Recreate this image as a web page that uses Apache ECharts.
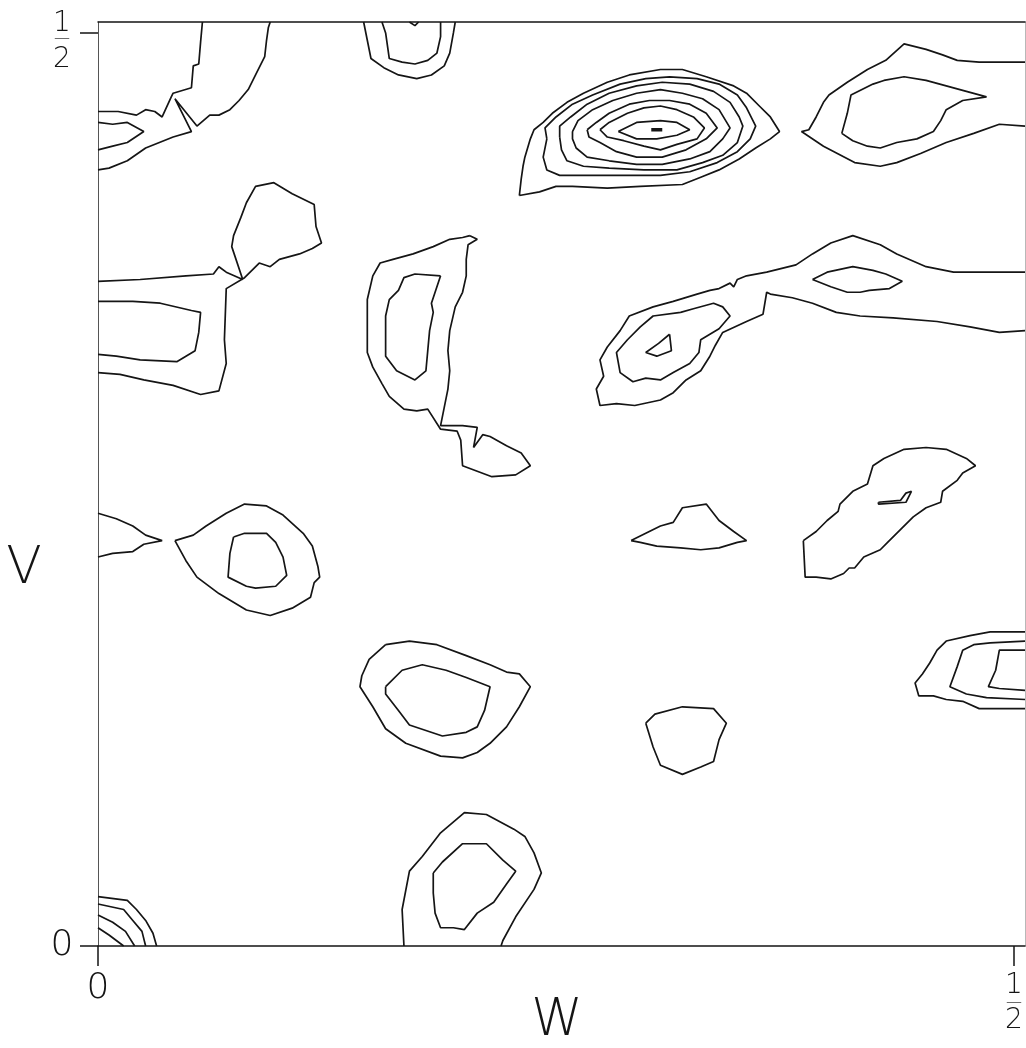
<!DOCTYPE html>
<html>
<head>
<meta charset="utf-8">
<script src="https://cdn.jsdelivr.net/npm/echarts@6/dist/echarts.min.js"></script>
<style>
  html, body { margin: 0; padding: 0; background: #ffffff; }
  #chart { width: 1026px; height: 1048px; }
</style>
</head>
<body>
<div id="chart"></div>
<script>
// Section extent in fractional cell coordinates, and the labelled ticks
const W_MAX = 0.506;
const V_MAX = 0.506;
const TICKS = [0, 0.5];

// ---- Contour lines, each a list of [w, v] points ----

// top-left corner
const topLeftInner = [[0.057,0.506],[0.056,0.495],[0.055,0.483],[0.052,0.482],[0.051,0.470],[0.041,0.467],[0.040,0.465],[0.035,0.454],[0.031,0.457],[0.026,0.458],[0.021,0.455],[0.011,0.457],[0,0.457]];
const topLeftOuter = [[0.094,0.506],[0.093,0.503],[0.092,0.496],[0.091,0.487],[0.086,0.477],[0.082,0.469],[0.077,0.463],[0.072,0.458],[0.066,0.455],[0.061,0.455],[0.054,0.449],[0.042,0.464],[0.051,0.446],[0.041,0.443],[0.026,0.437],[0.016,0.430],[0.006,0.426],[0,0.425]];
const topLeftLobe = [[0,0.451],[0.008,0.450],[0.016,0.451],[0.025,0.446],[0.016,0.440],[0.008,0.438],[0,0.436]];

// top edge, middle
const topMidOuter = [[0.145,0.506],[0.147,0.496],[0.149,0.486],[0.156,0.481],[0.164,0.477],[0.174,0.475],[0.182,0.477],[0.189,0.482],[0.192,0.489],[0.194,0.500],[0.195,0.506]];
const topMidInner = [[0.155,0.506],[0.157,0.500],[0.159,0.486],[0.166,0.484],[0.173,0.483],[0.180,0.485],[0.185,0.489],[0.187,0.498],[0.187,0.506]];
const topMidNotch = [[0.170,0.506],[0.173,0.504],[0.175,0.506]];

// main peak, outermost ring first
const peakRing1 = [[0.230,0.411],[0.231,0.420],[0.232,0.427],[0.233,0.432],[0.236,0.442],[0.238,0.447],[0.243,0.451],[0.248,0.456],[0.256,0.462],[0.265,0.467],[0.278,0.473],[0.290,0.477],[0.307,0.480],[0.319,0.480],[0.332,0.476],[0.347,0.471],[0.354,0.467],[0.361,0.460],[0.367,0.454],[0.372,0.446],[0.367,0.442],[0.359,0.437],[0.350,0.431],[0.339,0.425],[0.329,0.421],[0.319,0.417],[0.296,0.416],[0.278,0.415],[0.259,0.416],[0.250,0.416],[0.241,0.413]];
const peakRing2 = [[0.245,0.442],[0.244,0.448],[0.250,0.454],[0.259,0.461],[0.270,0.466],[0.285,0.472],[0.299,0.475],[0.312,0.476],[0.327,0.475],[0.339,0.472],[0.349,0.466],[0.354,0.459],[0.359,0.449],[0.356,0.442],[0.349,0.435],[0.338,0.429],[0.323,0.424],[0.307,0.422],[0.290,0.422],[0.274,0.422],[0.261,0.422],[0.252,0.422],[0.245,0.425],[0.243,0.432]];
const peakRing3 = [[0.252,0.443],[0.252,0.449],[0.258,0.454],[0.267,0.461],[0.279,0.467],[0.294,0.471],[0.308,0.473],[0.323,0.472],[0.336,0.468],[0.345,0.462],[0.350,0.454],[0.352,0.449],[0.349,0.440],[0.341,0.433],[0.330,0.429],[0.316,0.425],[0.298,0.425],[0.279,0.426],[0.265,0.427],[0.256,0.430],[0.253,0.436]];
const peakRing4 = [[0.259,0.446],[0.262,0.452],[0.270,0.458],[0.281,0.463],[0.294,0.467],[0.307,0.469],[0.319,0.467],[0.330,0.464],[0.339,0.458],[0.345,0.448],[0.341,0.442],[0.334,0.435],[0.323,0.431],[0.308,0.428],[0.294,0.428],[0.279,0.430],[0.267,0.432],[0.261,0.437],[0.259,0.442]];
const peakRing5 = [[0.267,0.447],[0.272,0.451],[0.279,0.456],[0.290,0.461],[0.301,0.463],[0.312,0.463],[0.323,0.461],[0.332,0.456],[0.338,0.448],[0.332,0.442],[0.321,0.436],[0.308,0.432],[0.294,0.432],[0.283,0.435],[0.274,0.440],[0.268,0.443]];
const peakRing6 = [[0.274,0.447],[0.279,0.451],[0.289,0.456],[0.298,0.459],[0.307,0.460],[0.316,0.458],[0.325,0.454],[0.331,0.448],[0.327,0.442],[0.316,0.439],[0.307,0.436],[0.298,0.438],[0.287,0.441],[0.278,0.443]];
const peakRing7 = [[0.284,0.446],[0.294,0.451],[0.307,0.452],[0.316,0.451],[0.323,0.447],[0.316,0.444],[0.305,0.442],[0.294,0.442]];
const peakCentre = [[0.302,0.447],[0.308,0.447]];

// top-right corner
const topRightOuter = [[0.506,0.484],[0.481,0.484],[0.469,0.485],[0.461,0.488],[0.452,0.491],[0.440,0.494],[0.430,0.485],[0.420,0.480],[0.409,0.473],[0.399,0.466],[0.396,0.462],[0.392,0.454],[0.388,0.447],[0.384,0.446],[0.396,0.438],[0.413,0.429],[0.427,0.427],[0.436,0.429],[0.449,0.434],[0.463,0.440],[0.478,0.445],[0.492,0.450],[0.506,0.449]];
const topRightInner = [[0.406,0.445],[0.409,0.456],[0.411,0.466],[0.423,0.472],[0.429,0.474],[0.440,0.476],[0.452,0.474],[0.463,0.471],[0.474,0.468],[0.485,0.465],[0.472,0.463],[0.463,0.458],[0.460,0.452],[0.456,0.446],[0.447,0.442],[0.436,0.440],[0.427,0.437],[0.420,0.438],[0.412,0.441]];

// band from the right edge wrapping the peak near w = 0.3
const bandOuter = [[0.506,0.369],[0.467,0.369],[0.452,0.372],[0.436,0.379],[0.427,0.384],[0.412,0.389],[0.400,0.385],[0.390,0.379],[0.381,0.373],[0.365,0.369],[0.354,0.367],[0.349,0.365],[0.347,0.361],[0.345,0.363],[0.339,0.360],[0.334,0.359],[0.327,0.357],[0.314,0.353],[0.303,0.350],[0.290,0.345],[0.285,0.337],[0.278,0.328],[0.274,0.321],[0.276,0.312],[0.272,0.305],[0.274,0.296],[0.283,0.297],[0.293,0.296],[0.307,0.299],[0.314,0.303],[0.321,0.310],[0.329,0.315],[0.334,0.323],[0.337,0.329],[0.341,0.336],[0.354,0.342],[0.363,0.346],[0.365,0.358],[0.367,0.357],[0.379,0.355],[0.390,0.352],[0.403,0.347],[0.416,0.345],[0.434,0.344],[0.458,0.342],[0.476,0.339],[0.492,0.336],[0.506,0.337]];
const bandLens = [[0.390,0.365],[0.398,0.369],[0.412,0.372],[0.423,0.370],[0.430,0.368],[0.439,0.364],[0.432,0.360],[0.421,0.359],[0.416,0.358],[0.409,0.358],[0.400,0.361]];
const bandPeakMiddle = [[0.318,0.347],[0.325,0.349],[0.336,0.352],[0.341,0.350],[0.345,0.345],[0.339,0.338],[0.329,0.332],[0.328,0.325],[0.323,0.319],[0.314,0.314],[0.307,0.310],[0.299,0.311],[0.292,0.309],[0.285,0.314],[0.283,0.325],[0.289,0.332],[0.296,0.339],[0.303,0.345]];
const bandPeakInner = [[0.312,0.335],[0.313,0.326],[0.305,0.323],[0.299,0.325],[0.306,0.330]];

// left edge band with the lobe above it
const leftBandOuter = [[0,0.364],[0.023,0.365],[0.048,0.367],[0.063,0.368],[0.066,0.372],[0.070,0.369],[0.079,0.365],[0.073,0.383],[0.074,0.389],[0.078,0.399],[0.081,0.407],[0.086,0.416],[0.096,0.418],[0.106,0.412],[0.118,0.406],[0.119,0.394],[0.122,0.385],[0.117,0.382],[0.110,0.379],[0.099,0.376],[0.094,0.372],[0.088,0.374],[0.080,0.366],[0.070,0.360],[0.069,0.332],[0.070,0.319],[0.066,0.304],[0.056,0.302],[0.041,0.307],[0.025,0.310],[0.012,0.313],[0,0.314]];
const leftBandInner = [[0,0.353],[0.019,0.353],[0.034,0.352],[0.051,0.348],[0.056,0.347],[0.055,0.336],[0.053,0.326],[0.052,0.325],[0.043,0.320],[0.023,0.321],[0.010,0.323],[0,0.324]];

// tall peak near w = 0.17
const tallOuter = [[0.203,0.389],[0.207,0.387],[0.202,0.384],[0.201,0.376],[0.201,0.367],[0.199,0.358],[0.195,0.350],[0.192,0.337],[0.191,0.326],[0.192,0.315],[0.191,0.305],[0.189,0.295],[0.187,0.285],[0.199,0.285],[0.207,0.284],[0.205,0.273],[0.210,0.280],[0.214,0.279],[0.223,0.274],[0.231,0.270],[0.236,0.263],[0.228,0.258],[0.215,0.257],[0.207,0.260],[0.199,0.263],[0.198,0.277],[0.196,0.282],[0.187,0.283],[0.180,0.294],[0.174,0.293],[0.167,0.294],[0.159,0.301],[0.155,0.308],[0.150,0.317],[0.147,0.325],[0.147,0.336],[0.147,0.354],[0.150,0.367],[0.154,0.374],[0.161,0.376],[0.172,0.379],[0.183,0.383],[0.192,0.387],[0.199,0.388]];
const tallInner = [[0.187,0.367],[0.173,0.368],[0.167,0.366],[0.164,0.359],[0.159,0.354],[0.157,0.345],[0.157,0.332],[0.157,0.323],[0.163,0.315],[0.173,0.310],[0.179,0.315],[0.180,0.326],[0.181,0.337],[0.183,0.347],[0.182,0.352],[0.184,0.358]];

// left edge at v = 0.22 and the teardrop peak beside it
const leftLobeMid = [[0,0.237],[0.010,0.234],[0.019,0.230],[0.026,0.225],[0.035,0.222],[0.025,0.220],[0.019,0.216],[0.008,0.215],[0,0.213]];
const teardropOuter = [[0.042,0.222],[0.052,0.225],[0.059,0.230],[0.070,0.237],[0.080,0.242],[0.092,0.241],[0.101,0.236],[0.112,0.226],[0.117,0.219],[0.120,0.208],[0.121,0.202],[0.118,0.199],[0.116,0.191],[0.106,0.185],[0.094,0.181],[0.081,0.184],[0.066,0.193],[0.054,0.202],[0.048,0.211]];
const teardropInner = [[0.074,0.224],[0.080,0.226],[0.092,0.226],[0.097,0.221],[0.101,0.213],[0.103,0.203],[0.097,0.197],[0.086,0.196],[0.081,0.197],[0.071,0.202],[0.072,0.215]];

// centre-right
const smallTriangle = [[0.291,0.222],[0.299,0.226],[0.307,0.230],[0.314,0.232],[0.319,0.240],[0.332,0.242],[0.339,0.233],[0.347,0.227],[0.354,0.222],[0.349,0.221],[0.339,0.218],[0.329,0.217],[0.318,0.218],[0.305,0.219],[0.296,0.221]];
const ridgeOuter = [[0.385,0.222],[0.386,0.202],[0.392,0.202],[0.400,0.201],[0.407,0.204],[0.410,0.207],[0.413,0.207],[0.418,0.213],[0.427,0.217],[0.431,0.221],[0.438,0.228],[0.445,0.235],[0.452,0.240],[0.460,0.243],[0.461,0.249],[0.469,0.255],[0.472,0.259],[0.479,0.263],[0.474,0.267],[0.463,0.272],[0.452,0.273],[0.440,0.272],[0.429,0.267],[0.423,0.263],[0.420,0.253],[0.412,0.249],[0.405,0.242],[0.404,0.238],[0.398,0.233],[0.392,0.227]];
const ridgeInner = [[0.426,0.243],[0.438,0.244],[0.441,0.248],[0.444,0.249],[0.441,0.243],[0.426,0.242]];

// lower half
const lowPairOuter = [[0.157,0.165],[0.170,0.167],[0.185,0.165],[0.201,0.159],[0.214,0.154],[0.223,0.150],[0.230,0.149],[0.236,0.142],[0.230,0.131],[0.223,0.120],[0.214,0.111],[0.207,0.106],[0.199,0.103],[0.187,0.104],[0.168,0.111],[0.157,0.119],[0.150,0.131],[0.143,0.142],[0.144,0.148],[0.148,0.157]];
const lowPairInner = [[0.157,0.142],[0.166,0.151],[0.177,0.154],[0.190,0.151],[0.201,0.147],[0.214,0.142],[0.211,0.129],[0.207,0.120],[0.201,0.117],[0.188,0.115],[0.170,0.121],[0.164,0.129],[0.157,0.138]];
const smallBlob = [[0.299,0.122],[0.304,0.127],[0.319,0.131],[0.336,0.130],[0.343,0.122],[0.339,0.113],[0.336,0.101],[0.329,0.098],[0.319,0.094],[0.307,0.099],[0.303,0.109]];

// right edge at v = 0.15
const rightEdgeOuter = [[0.506,0.172],[0.487,0.172],[0.476,0.170],[0.463,0.167],[0.458,0.162],[0.454,0.155],[0.450,0.149],[0.446,0.144],[0.448,0.137],[0.456,0.137],[0.463,0.135],[0.472,0.134],[0.481,0.130],[0.492,0.130],[0.506,0.130]];
const rightEdgeMiddle = [[0.506,0.167],[0.487,0.166],[0.478,0.165],[0.472,0.162],[0.469,0.153],[0.465,0.142],[0.474,0.138],[0.485,0.136],[0.506,0.135]];
const rightEdgeInner = [[0.506,0.162],[0.492,0.162],[0.490,0.151],[0.486,0.142],[0.492,0.141],[0.506,0.140]];

// bottom edge
const baseOuter = [[0.167,0],[0.166,0.020],[0.170,0.041],[0.177,0.049],[0.187,0.062],[0.200,0.073],[0.212,0.072],[0.227,0.064],[0.233,0.060],[0.238,0.051],[0.242,0.040],[0.238,0.031],[0.228,0.016],[0.221,0.003],[0.220,0]];
const baseInner = [[0.183,0.040],[0.188,0.046],[0.199,0.056],[0.212,0.056],[0.221,0.047],[0.228,0.041],[0.223,0.034],[0.216,0.024],[0.207,0.018],[0.200,0.009],[0.194,0.010],[0.187,0.010],[0.184,0.018],[0.183,0.029]];

// origin peak
const originArc1 = [[0,0.027],[0.016,0.025],[0.021,0.020],[0.026,0.014],[0.030,0.007],[0.032,0]];
const originArc2 = [[0,0.023],[0.014,0.020],[0.019,0.014],[0.024,0.008],[0.026,0]];
const originArc3 = [[0,0.017],[0.008,0.013],[0.015,0.008],[0.020,0]];
const originArc4 = [[0,0.010],[0.006,0.006],[0.014,0]];

// ---- assemble ----
const openLines = [
  topLeftInner, topLeftOuter, topLeftLobe, topMidOuter, topMidInner, topMidNotch,
  topRightOuter, bandOuter, leftBandOuter, leftBandInner, leftLobeMid,
  rightEdgeOuter, rightEdgeMiddle, rightEdgeInner, baseOuter,
  originArc1, originArc2, originArc3, originArc4
];
const closedLines = [
  peakRing1, peakRing2, peakRing3, peakRing4, peakRing5, peakRing6, peakRing7,
  topRightInner, bandLens, bandPeakMiddle, bandPeakInner,
  tallOuter, tallInner, teardropOuter, teardropInner,
  smallTriangle, ridgeOuter, ridgeInner,
  lowPairOuter, lowPairInner, smallBlob, baseInner
];
const peakMarks = [peakCentre];

const INK = '#151515';
function lineSeries(points, width) {
  return {
    type: 'line',
    data: points,
    showSymbol: false,
    symbol: 'none',
    silent: true,
    animation: false,
    lineStyle: { color: INK, width: width },
    emphasis: { disabled: true }
  };
}

const series = [];
openLines.forEach(p => series.push(lineSeries(p, 1.7)));
closedLines.forEach(p => series.push(lineSeries(p.concat([p[0]]), 1.7)));
peakMarks.forEach(p => series.push(lineSeries(p, 3.5)));

const FONT = '"DejaVu Sans", "Liberation Sans", sans-serif';
const isHalf = v => Math.abs(v - 0.5) < 1e-9;
const textStyle = (size, lh) => ({ fontSize: size, lineHeight: lh, fontFamily: FONT, fontWeight: 200, color: INK });

// stacked "1 over 2" fraction for the half-cell tick
const xRich = { z: textStyle(36, 36), n: textStyle(28, 30), bar: textStyle(16, 4), d: textStyle(28, 32) };
const yRich = { z: textStyle(36, 36), sp: textStyle(4, 23), n: textStyle(28, 26), bar: textStyle(16, 4), d: textStyle(28, 38) };
const xTickLabel = v => isHalf(v) ? '{n|1}\n{bar|—}\n{d|2}' : '{z|0}';
const yTickLabel = v => isHalf(v) ? '{sp| }\n{n|1}\n{bar|—}\n{d|2}' : '{z|0}';

const option = {
  backgroundColor: '#ffffff',
  animation: false,
  grid: { left: 98, top: 22, width: 927, height: 924, show: false, containLabel: false, outerBoundsMode: 'none' },
  xAxis: [
    {
      type: 'value', min: 0, max: W_MAX, position: 'bottom',
      axisLine: { show: true, onZero: false, lineStyle: { color: INK, width: 1.5 } },
      axisTick: { show: true, customValues: TICKS, length: 20, lineStyle: { color: INK, width: 1.5 } },
      axisLabel: { show: true, customValues: TICKS, formatter: xTickLabel, margin: 25, align: 'center', rich: xRich },
      splitLine: { show: false }
    },
    {
      type: 'value', min: 0, max: W_MAX, position: 'top',
      axisLine: { show: true, onZero: false, lineStyle: { color: INK, width: 1.5 } },
      axisTick: { show: false }, axisLabel: { show: false }, splitLine: { show: false }
    }
  ],
  yAxis: [
    {
      type: 'value', min: 0, max: V_MAX, position: 'left',
      axisLine: { show: true, onZero: false, lineStyle: { color: '#555555', width: 1 } },
      axisTick: { show: true, customValues: TICKS, length: 18, lineStyle: { color: INK, width: 1.5 } },
      axisLabel: { show: true, customValues: TICKS, formatter: yTickLabel, margin: 36, align: 'center', verticalAlign: 'middle', rich: yRich },
      splitLine: { show: false }
    },
    {
      type: 'value', min: 0, max: V_MAX, position: 'right',
      axisLine: { show: true, onZero: false, lineStyle: { color: '#b8b8b8', width: 1 } },
      axisTick: { show: false }, axisLabel: { show: false }, splitLine: { show: false }
    }
  ],
  graphic: [
    { type: 'text', x: 24, y: 569, style: { text: 'V', fontSize: 52, fontFamily: FONT, fontWeight: 200, fill: INK, align: 'center', verticalAlign: 'middle' } },
    { type: 'text', x: 557, y: 1021, style: { text: 'W', fontSize: 52, fontFamily: FONT, fontWeight: 200, fill: INK, align: 'center', verticalAlign: 'middle' } }
  ],
  series: series
};

const chart = echarts.init(document.getElementById('chart'), null, { renderer: 'canvas' });
chart.setOption(option);
</script>
</body>
</html>
